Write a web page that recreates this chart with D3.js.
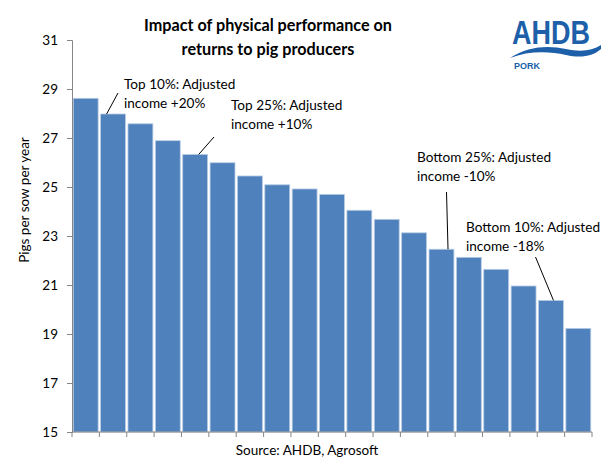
<!DOCTYPE html>
<html>
<head>
<meta charset="utf-8">
<script src="https://cdn.jsdelivr.net/npm/d3@7"></script>
<style>
  body { margin: 0; background: #fff; }
  svg text { font-family: Lato, "Open Sans", sans-serif; }
</style>
</head>
<body>
<script>
// pigs per sow per year, producers ranked best to worst
const bands = d3.range(1, 20).map(String);
const pigsPerSow = [28.62, 27.98, 27.58, 26.89, 26.33, 25.99, 25.45, 25.09, 24.92, 24.70,
    24.05, 23.68, 23.13, 22.46, 22.13, 21.64, 20.96, 20.37, 19.23];
const yTicks = [15, 17, 19, 21, 23, 25, 27, 29, 31];
const noteBars = [1, 4, 13, 17];
const noteLines = [
    ["Top 10%: Adjusted", "income +20%"],
    ["Top 25%: Adjusted", "income +10%"],
    ["Bottom 25%: Adjusted", "income -10%"],
    ["Bottom 10%: Adjusted", "income -18%"]
];

const w = 602, h = 459;
const svg = d3.select('body').append('svg')
    .attr('width', w)
    .attr('height', h);

const x = d3.scaleBand()
    .domain(bands)
    .range([72, 592])
    .paddingInner(0.09)
    .paddingOuter(0.045);

const y = d3.scaleLinear()
    .domain([15, 31])
    .range([432, 40]);

const axisColor = "#868686";

// bars
svg.selectAll("rect.bar")
    .data(pigsPerSow)
    .enter().append("rect")
    .attr("class", "bar")
    .attr("x", (d, i) => x(bands[i]))
    .attr("width", x.bandwidth())
    .attr("y", d => y(d))
    .attr("height", d => y(15) - y(d))
    .attr("fill", "#4F81BD")
    .attr("stroke", "#B9CDE5")
    .attr("stroke-width", 0.8);

// y axis
const yAxis = svg.append("g")
    .attr("transform", "translate(72,0)")
    .call(d3.axisLeft(y).tickValues(yTicks).tickSize(5).tickPadding(9).tickFormat(d3.format("d")));
yAxis.select(".domain").attr("stroke", axisColor);
yAxis.selectAll(".tick line").attr("stroke", axisColor);
yAxis.selectAll(".tick text").attr("font-size", 13.5).attr("fill", "#000")
    .style("font-family", "Lato, sans-serif");

// x axis: ticks sit between categories
const xg = svg.append("g");
xg.append("line")
    .attr("x1", 72).attr("x2", 592)
    .attr("y1", y(15)).attr("y2", y(15))
    .attr("stroke", axisColor);
const edges = bands.map(b => x(b) - x.step() * x.paddingInner() / 2);
edges.push(592);
edges[0] = 72;
xg.selectAll("line.tick")
    .data(edges)
    .enter().append("line")
    .attr("class", "tick")
    .attr("x1", d => d).attr("x2", d => d)
    .attr("y1", y(15)).attr("y2", y(15) + 5)
    .attr("stroke", axisColor);

// y title
svg.append("text")
    .attr("transform", "translate(29,200) rotate(-90)")
    .attr("text-anchor", "middle")
    .attr("font-size", 13.5)
    .text("Pigs per sow per year");

// title
svg.append("text")
    .attr("x", 268).attr("y", 31)
    .attr("text-anchor", "middle")
    .attr("font-size", 16.2)
    .attr("font-weight", "bold")
    .selectAll("tspan")
    .data(["Impact of physical performance on", "returns to pig producers"])
    .enter().append("tspan")
    .attr("x", 268)
    .attr("dy", (d, i) => i ? 24 : 0)
    .text(d => d);

// source
svg.append("text")
    .attr("x", 307).attr("y", 455)
    .attr("text-anchor", "middle")
    .attr("font-size", 13.5)
    .text("Source: AHDB, Agrosoft");

// annotations
const notePos = [[124, 89], [231, 110], [417, 162], [466, 232]];
const leaderFrom = [[118, 93], [214, 137], [446.5, 192], [535.5, 257]];
const leaderOffset = [6, 16, 19, 15];

noteBars.forEach((b, k) => {
    svg.append("line")
        .attr("x1", leaderFrom[k][0]).attr("y1", leaderFrom[k][1])
        .attr("x2", x(bands[b]) + leaderOffset[k])
        .attr("y2", y(pigsPerSow[b]))
        .attr("stroke", "#000")
        .attr("stroke-width", 1);
    svg.append("text")
        .attr("font-size", 13.6)
        .selectAll("tspan")
        .data(noteLines[k])
        .enter().append("tspan")
        .attr("x", notePos[k][0])
        .attr("y", (d, i) => notePos[k][1] + i * 19)
        .text(d => d);
});

// AHDB logo
const logo = svg.append("g");
logo.append("text")
    .attr("transform", "translate(512,44) scale(1,1.2)")
    .attr("font-size", 27)
    .attr("font-weight", "bold")
    .attr("fill", "#1d5fa8")
    .style("font-family", "'Liberation Sans', Arial, sans-serif")
    .text("AHDB");
logo.append("path")
    .attr("d", "M510,58 C528,46 548,45 566,49 C580,52 592,51 601,45 L601,49 C592,57 580,58 566,55 C548,51 528,51 510,58 Z")
    .attr("fill", "#1d5fa8");
logo.append("text")
    .attr("x", 514).attr("y", 69)
    .attr("font-size", 9)
    .attr("font-weight", "bold")
    .attr("fill", "#1d5fa8")
    .style("font-family", "'Liberation Sans', Arial, sans-serif")
    .text("PORK");
</script>
</body>
</html>
